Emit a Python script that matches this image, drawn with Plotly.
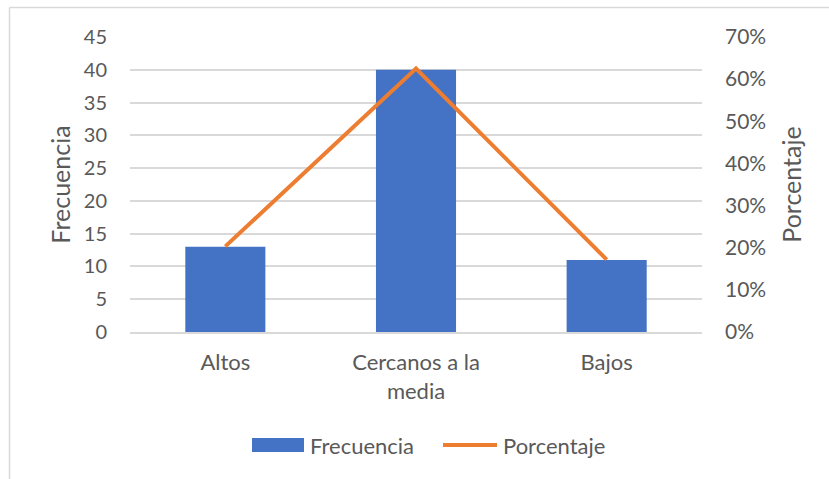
import plotly.graph_objects as go

categories = ["Altos", "Cercanos a la<br>media", "Bajos"]
frecuencia = [13, 40, 11]
total = sum(frecuencia)
porcentaje = [f / total for f in frecuencia]

W, H = 829, 479
L, R, T, B = 130, 127, 37, 147
PW, PH = W - L - R, H - T - B

BLUE = "#4472C4"
ORANGE = "#ED7D31"
GRID = "#D9D9D9"
TXT = "#595959"
FONT = "Lato"


def px(x):
    return (x - L) / PW


def py(y):
    return (H - B - y) / PH


fig = go.Figure()
fig.add_trace(go.Bar(x=categories, y=frecuencia, name="Frecuencia",
                     marker=dict(color=BLUE, line=dict(width=0)), width=0.42))
fig.add_trace(go.Scatter(x=categories, y=porcentaje, name="Porcentaje", yaxis="y2",
                         mode="lines", line=dict(color=ORANGE, width=4)))

shapes = [
    # chart area frame (left and top edges)
    dict(type="line", xref="paper", yref="paper", x0=px(9.5), y0=py(479), x1=px(9.5), y1=py(7.5),
         line=dict(color=GRID, width=1.5)),
    dict(type="line", xref="paper", yref="paper", x0=px(9.5), y0=py(7.5), x1=px(829), y1=py(7.5),
         line=dict(color=GRID, width=1.5)),
    # legend keys
    dict(type="rect", xref="paper", yref="paper", x0=px(252), y0=py(452), x1=px(304), y1=py(438),
         fillcolor=BLUE, line=dict(width=0)),
    dict(type="line", xref="paper", yref="paper", x0=px(443), y0=py(445), x1=px(497), y1=py(445),
         line=dict(color=ORANGE, width=4)),
]
annotations = [
    dict(text="Frecuencia", xref="paper", yref="paper", x=px(308), y=py(445), xanchor="left",
         yanchor="middle", showarrow=False, font=dict(family=FONT, size=22, color=TXT)),
    dict(text="Porcentaje", xref="paper", yref="paper", x=px(501), y=py(445), xanchor="left",
         yanchor="middle", showarrow=False, font=dict(family=FONT, size=22, color=TXT)),
]

fig.update_layout(
    width=W, height=H,
    margin=dict(l=L, r=R, t=T, b=B, pad=0),
    paper_bgcolor="white", plot_bgcolor="white",
    showlegend=False,
    font=dict(family=FONT, size=20, color=TXT),
    bargap=0.58,
    xaxis=dict(showgrid=False, showline=True, linecolor=GRID, linewidth=1.5,
               ticks="", tickfont=dict(size=22, color=TXT), ticklabelstandoff=10),
    yaxis=dict(range=[0, 45], dtick=5, showgrid=True, gridcolor=GRID, gridwidth=1.5,
               zeroline=False, ticks="", ticklabelstandoff=22,
               tickfont=dict(size=20, color=TXT),
               title=dict(text="Frecuencia", font=dict(size=25, color=TXT), standoff=6)),
    yaxis2=dict(range=[0, 0.7], dtick=0.1, tickformat=".0%", overlaying="y", side="right",
                showgrid=False, zeroline=False, ticks="", ticklabelstandoff=22,
                tickfont=dict(size=21, color=TXT),
                title=dict(text="Porcentaje", font=dict(size=25, color=TXT), standoff=18)),
    shapes=shapes,
    annotations=annotations,
)

fig.write_html("out.html")
